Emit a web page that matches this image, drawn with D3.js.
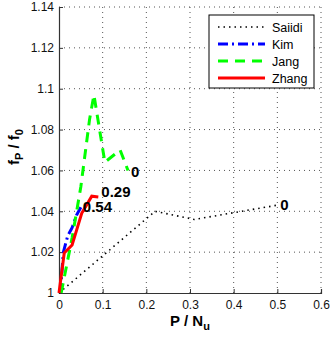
<!DOCTYPE html>
<html>
<head>
<meta charset="utf-8">
<script src="https://cdn.jsdelivr.net/npm/d3@7"></script>
<style>
body{margin:0;background:#fff;}
text{font-family:"Liberation Sans",Arial,sans-serif;}
</style>
</head>
<body>
<div class="bod"></div>
<script>
// data
var saiidiX = [0, 0.22, 0.31, 0.5]
var saiidiY = [1.0, 1.04, 1.036, 1.043]
var kimX = [0.003, 0.01, 0.02, 0.03, 0.04, 0.05]
var kimY = [1.0, 1.02, 1.028, 1.032, 1.038, 1.042]
var jangX = [0.005, 0.03, 0.05, 0.07, 0.08, 0.105, 0.14, 0.158]
var jangY = [1.0, 1.027, 1.052, 1.085, 1.097, 1.064, 1.07, 1.06]
var zhangX = [0, 0.012, 0.03, 0.052, 0.075, 0.09]
var zhangY = [1.0, 1.0196, 1.0235, 1.039, 1.0474, 1.047]
var endLabels = ['0', '0.54', '0', '0.29']
var seriesNames = ['Saiidi', 'Kim', 'Jang', 'Zhang']
var xTicks = [0, 0.1, 0.2, 0.3, 0.4, 0.5, 0.6]
var yTicks = [1, 1.02, 1.04, 1.06, 1.08, 1.1, 1.12, 1.14]

var size = {width:332, height:340, left:59, right:321, top:7, bottom:293}

var styles = [
  {color:'#000', width:1.6, dash:'1.5,4'},
  {color:'#0000ff', width:3, dash:'10,4,2,4'},
  {color:'#00ff00', width:3, dash:'10,7'},
  {color:'#ff0000', width:3, dash:null}
]

const svg = d3.select('.bod').append('svg')
  .attr('width', size.width).attr('height', size.height)

let x = d3.scaleLinear().domain([0, 0.6]).range([size.left, size.right])
let y = d3.scaleLinear().domain([1, 1.14]).range([size.bottom, size.top])

//grid
svg.append('g').selectAll('line').data(xTicks.slice(1)).enter().append('line')
  .attr('x1', d=>x(d)).attr('x2', d=>x(d))
  .attr('y1', size.top).attr('y2', size.bottom)
  .attr('stroke', '#555').attr('stroke-width', 1).attr('stroke-dasharray', '1,4')
svg.append('g').selectAll('line').data(yTicks.slice(1)).enter().append('line')
  .attr('y1', d=>y(d)).attr('y2', d=>y(d))
  .attr('x1', size.left).attr('x2', size.right)
  .attr('stroke', '#555').attr('stroke-width', 1).attr('stroke-dasharray', '1,4')

//axes
let xAxis = svg.append('g')
  .attr('transform', `translate(0,${size.bottom})`)
  .call(d3.axisBottom(x).tickValues(xTicks).tickSize(-4).tickPadding(7).tickFormat(d3.format('')))
let yAxis = svg.append('g')
  .attr('transform', `translate(${size.left},0)`)
  .call(d3.axisLeft(y).tickValues(yTicks).tickSize(-4).tickPadding(5).tickFormat(d3.format('')))
;[xAxis, yAxis].forEach(a=>{
  a.select('.domain').attr('stroke', '#333').attr('stroke-width', 1.2)
  a.selectAll('.tick line').attr('stroke', '#333')
  a.selectAll('text').attr('font-size', 12).attr('fill', '#111')
    .attr('font-family', '"Liberation Sans",Arial,sans-serif')
})

//lines
let allX = [saiidiX, kimX, jangX, zhangX]
let allY = [saiidiY, kimY, jangY, zhangY]
let line = d3.line().x(d=>x(d[0])).y(d=>y(d[1]))
allX.forEach((xs, i)=>{
  let pts = xs.map((v, j)=>[v, allY[i][j]])
  let p = svg.append('path').datum(pts)
    .attr('d', line)
    .attr('fill', 'none')
    .attr('stroke', styles[i].color)
    .attr('stroke-width', styles[i].width)
  if (styles[i].dash) p.attr('stroke-dasharray', styles[i].dash)
})

//end labels
let labelOffset = [[3, 5], [2, 5], [3, 7], [3, 0]]
allX.forEach((xs, i)=>{
  let n = xs.length - 1
  svg.append('text')
    .attr('x', x(xs[n]) + labelOffset[i][0])
    .attr('y', y(allY[i][n]) + labelOffset[i][1])
    .attr('font-size', 15).attr('font-weight', 'bold')
    .text(endLabels[i])
})

//legend
let legend = svg.append('g').attr('id', 'legend')
legend.append('rect')
  .attr('x', 209).attr('y', 15).attr('width', 105).attr('height', 73)
  .attr('fill', '#fff').attr('stroke', '#000').attr('stroke-width', 1)
seriesNames.forEach((name, i)=>{
  let ly = 27 + i * 17
  let l = legend.append('line')
    .attr('x1', 218).attr('x2', 265).attr('y1', ly).attr('y2', ly)
    .attr('stroke', styles[i].color).attr('stroke-width', styles[i].width)
  if (styles[i].dash) l.attr('stroke-dasharray', styles[i].dash)
  legend.append('text')
    .attr('x', 272).attr('y', ly + 4.5)
    .attr('font-size', 12.5)
    .text(name)
})

//axis labels
let xl = svg.append('text')
  .attr('x', (size.left + size.right) / 2).attr('y', 326)
  .attr('text-anchor', 'middle').attr('font-size', 15).attr('font-weight', 'bold')
xl.append('tspan').text('P / N')
xl.append('tspan').attr('font-size', 11).attr('dy', 4).text('u')

let yl = svg.append('text')
  .attr('transform', `translate(19,${(size.top + size.bottom) / 2 - 3}) rotate(-90)`)
  .attr('text-anchor', 'middle').attr('font-size', 15).attr('font-weight', 'bold')
yl.append('tspan').text('f')
yl.append('tspan').attr('font-size', 11).attr('dy', 4).text('P')
yl.append('tspan').attr('dy', -4).text(' / f')
yl.append('tspan').attr('font-size', 11).attr('dy', 4).text('0')
</script>
</body>
</html>
